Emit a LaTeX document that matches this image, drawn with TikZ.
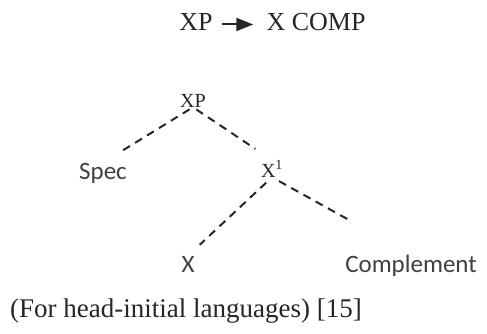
\documentclass[tikz,border=0pt]{standalone}
\usepackage{fontspec}
\setmainfont{Liberation Serif}
\newfontfamily\labfont{Carlito}
\usetikzlibrary{arrows.meta}
\tikzset{
  rule/.style={font=\fontsize{26}{30}\selectfont, inner sep=0pt, anchor=base, text=black!85},
  cat/.style={font=\fontsize{20}{24}\selectfont, inner sep=0pt, anchor=base, text=black!85},
  leaf/.style={font=\labfont\fontsize{25}{30}\selectfont, inner sep=0pt, anchor=base, text=black!75},
  branch/.style={line width=2pt, dash pattern=on 8pt off 6pt, black!85},
}
\begin{document}
\begin{tikzpicture}[x=1pt,y=-1pt]
  \useasboundingbox (0,0) rectangle (487,333);

  % phrase structure rule
  \node[rule] (lhs) at (196,30) {XP};
  \node[rule] (rhs) at (316,30) {X COMP};
  \draw[line width=2pt, black!85, -{Triangle[length=17pt,width=13pt]}, shorten <=9pt, shorten >=13pt]
    (lhs.east) ++(0,3) coordinate (arrstart) -- (rhs.west |- arrstart);

  % tree
  \node[cat]  (xp)   at (193,107) {XP};
  \node[leaf] (spec) at (103,179) {Spec};
  \node[cat]  (xbar) at (272,177) {X\textsuperscript{1}};
  \node[leaf] (x)    at (188,272) {X};
  \node[leaf] (comp) at (411,272) {Complement};

  \draw[branch, shorten <=4pt, shorten >=20pt] (xp.south) -- (spec.north);
  \draw[branch, shorten <=4pt, shorten >=20pt] (xp.south) -- (xbar.north);
  \draw[branch, shorten <=8pt, shorten >=16pt] (xbar.south) -- (x.north);
  \draw[branch, shorten <=8pt, shorten >=70pt] (xbar.south) -- (comp.north);

  \node[rule, anchor=base west] (src) at (10,317) {\fontsize{27}{30}\selectfont(For head-initial languages) [15]};
\end{tikzpicture}
\end{document}
